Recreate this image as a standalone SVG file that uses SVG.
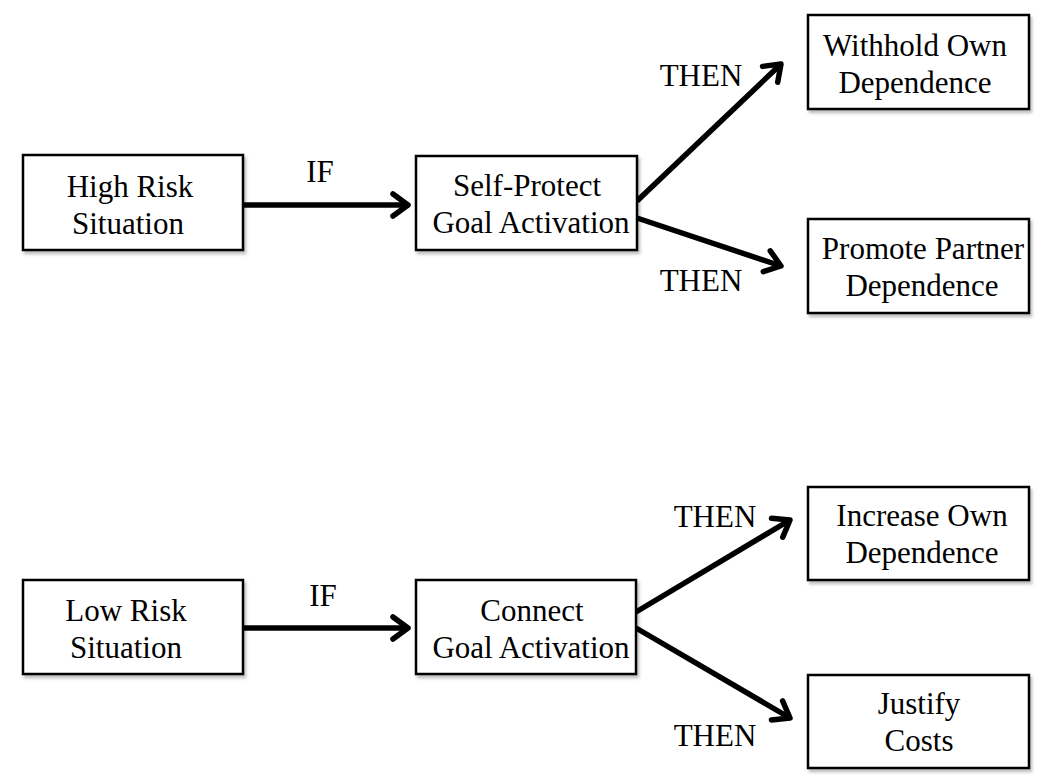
<svg xmlns="http://www.w3.org/2000/svg" width="1050" height="781" viewBox="0 0 1050 781">
<defs>
<filter id="sh" x="-10%" y="-10%" width="130%" height="130%">
<feDropShadow dx="2" dy="3" stdDeviation="1.5" flood-color="#000" flood-opacity="0.25"/>
</filter>
<marker id="arr" markerUnits="userSpaceOnUse" markerWidth="40" markerHeight="40" viewBox="-20 -20 40 40" refX="0" refY="0" orient="auto">
<path d="M -15 -11 L 0 0 L -15 11" fill="none" stroke="#000" stroke-width="5.5" stroke-linecap="round" stroke-linejoin="round"/>
</marker>
</defs>
<style>
.box{fill:#fff;stroke:#000;stroke-width:2.5;filter:url(#sh)}
.t{font-family:"Liberation Serif","Times New Roman",serif;font-size:31px;fill:#000;text-anchor:middle}
.lbl{font-family:"Liberation Serif","Times New Roman",serif;font-size:31px;fill:#000;text-anchor:middle}
.c{stroke:#000;stroke-width:5.5;fill:none;marker-end:url(#arr)}
</style>
<rect width="1050" height="781" fill="#fff"/>
<g id="connectors">
<line class="c" x1="244" y1="205" x2="408" y2="205"/>
<line class="c" x1="637" y1="201" x2="781" y2="64"/>
<line class="c" x1="637" y1="218" x2="781" y2="266"/>
<line class="c" x1="244" y1="628" x2="408" y2="628"/>
<line class="c" x1="636" y1="612" x2="790" y2="520"/>
<line class="c" x1="636" y1="628" x2="790" y2="718"/>
<text class="lbl" x="320" y="182">IF</text>
<text class="lbl" x="701" y="86">THEN</text>
<text class="lbl" x="701" y="291">THEN</text>
<text class="lbl" x="323" y="606">IF</text>
<text class="lbl" x="715" y="527">THEN</text>
<text class="lbl" x="715" y="746">THEN</text>
</g>
<g id="high-risk">
<rect class="box" x="23" y="155" width="220" height="95"/>
<text class="t" x="130" y="197">High Risk</text>
<text class="t" x="128" y="234">Situation</text>
</g>
<g id="self-protect">
<rect class="box" x="416" y="156" width="221" height="94"/>
<text class="t" x="527" y="196">Self-Protect</text>
<text class="t" x="531" y="233">Goal Activation</text>
</g>
<g id="withhold">
<rect class="box" x="808" y="15" width="221" height="94"/>
<text class="t" x="915" y="56">Withhold Own</text>
<text class="t" x="915" y="93">Dependence</text>
</g>
<g id="promote">
<rect class="box" x="808" y="219" width="221" height="94"/>
<text class="t" x="923" y="259">Promote Partner</text>
<text class="t" x="922" y="296">Dependence</text>
</g>
<g id="low-risk">
<rect class="box" x="23" y="580" width="220" height="94"/>
<text class="t" x="126" y="621">Low Risk</text>
<text class="t" x="126" y="658">Situation</text>
</g>
<g id="connect">
<rect class="box" x="416" y="580" width="220" height="94"/>
<text class="t" x="532" y="621">Connect</text>
<text class="t" x="531" y="658">Goal Activation</text>
</g>
<g id="increase">
<rect class="box" x="808" y="487" width="221" height="93"/>
<text class="t" x="922" y="526">Increase Own</text>
<text class="t" x="922" y="563">Dependence</text>
</g>
<g id="justify">
<rect class="box" x="808" y="675" width="221" height="93"/>
<text class="t" x="919" y="714">Justify</text>
<text class="t" x="919" y="751">Costs</text>
</g>
</svg>
